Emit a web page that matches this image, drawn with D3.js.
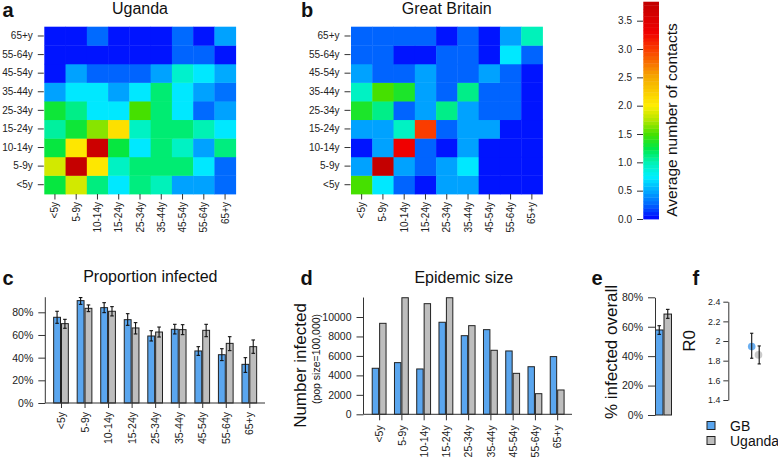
<!DOCTYPE html>
<html><head><meta charset="utf-8">
<script src="https://cdn.jsdelivr.net/npm/d3@7"></script>
<style>
body{margin:0;background:#fff;}
svg{display:block;font-family:"Liberation Sans",Arial,Helvetica,sans-serif;}
</style></head><body>
<svg id="chart" width="778" height="461"></svg>
<script>
// ---------- DATA ----------
const ageGroups = ["<5y","5-9y","10-14y","15-24y","25-34y","35-44y","45-54y","55-64y","65+y"];
// contact matrices: rows = participant age (<5y first), columns = contact age
const ugandaContacts = [
  [1.27,1.85,1.12,0.72,1.12,0.98,0.47,0.47,0.27],
  [1.85,3.78,2.05,0.95,1.15,1.15,1.15,0.72,0.27],
  [1.27,2.05,3.70,1.27,0.72,1.15,0.95,0.47,1.12],
  [1.05,1.30,1.65,2.10,0.95,1.15,1.15,1.00,0.72],
  [1.30,1.10,0.72,0.72,1.50,1.15,0.72,0.27,0.47],
  [0.47,0.72,0.72,0.47,0.72,1.15,0.72,0.47,0.30],
  [0.05,0.47,0.25,0.25,0.25,0.47,0.92,0.72,0.50],
  [0.05,0.05,0.05,0.05,0.05,0.05,0.25,0.25,0.05],
  [0.05,0.05,0.27,0.05,0.05,0.05,0.27,0.05,0.47]
];
const gbContacts = [
  [1.50,0.72,0.25,0.05,0.47,0.47,0.05,0.05,0.05],
  [0.47,3.80,0.47,0.25,0.47,0.72,0.05,0.05,0.05],
  [0.05,0.47,3.30,0.25,0.05,0.47,0.05,0.05,0.05],
  [0.47,0.47,0.95,3.00,0.25,0.47,0.47,0.05,0.05],
  [1.35,1.10,0.25,0.47,1.10,0.47,0.25,0.25,0.05],
  [0.95,1.50,1.35,0.47,0.25,1.10,0.25,0.25,0.05],
  [0.47,0.25,0.25,0.47,0.25,0.25,0.47,0.25,0.05],
  [0.25,0.25,0.05,0.05,0.25,0.25,0.05,0.72,0.25],
  [0.25,0.25,0.25,0.25,0.05,0.25,0.05,0.47,0.98]
];
const colorbarTicks = [0,0.5,1,1.5,2,2.5,3,3.5];
const colorbarMax = 3.835;

const countries = ["GB","Uganda"];
// c: proportion infected by age
const propGB   = [0.756,0.903,0.841,0.735,0.591,0.650,0.459,0.426,0.341];
const propGBlo = [0.703,0.870,0.797,0.685,0.547,0.609,0.420,0.374,0.270];
const propGBhi = [0.809,0.930,0.885,0.788,0.638,0.694,0.497,0.479,0.400];
const propUG   = [0.700,0.835,0.809,0.662,0.626,0.647,0.641,0.526,0.497];
const propUGlo = [0.659,0.806,0.768,0.609,0.582,0.603,0.585,0.462,0.438];
const propUGhi = [0.738,0.865,0.850,0.709,0.670,0.691,0.694,0.585,0.556];
const propTicks = [0,0.2,0.4,0.6,0.8];
// d: epidemic size
const sizeGB = [4730,5310,4660,9460,8080,8700,6510,4890,5930];
const sizeUG = [9350,11980,11370,11980,9110,6580,4210,2120,2500];
const sizeTicks = [0,2000,4000,6000,8000,10000];
// e: % infected overall
const overall   = [0.578,0.686];
const overallLo = [0.548,0.657];
const overallHi = [0.607,0.718];
// f: R0
const r0   = [1.943,1.859];
const r0Lo = [1.825,1.767];
const r0Hi = [2.079,1.950];
const r0Ticks = [1.4,1.6,1.8,2,2.2,2.4];

// ---------- STYLE ----------
const BLUE = "#5aa6ef", GREY = "#bebebe", INK = "#222";
const colorStops = [0,0.25,0.5,0.75,1.0,1.25,1.5,1.75,2.0,2.5,3.0,3.3,3.84];
const colorVals = ["#0000ff","#0064ff","#00aaff","#00f0ff","#00f2b4","#00e846","#46e000","#b4e600","#ffee00","#f5aa00","#fa3c00","#f00000","#c00000"];
const color = d3.scaleLinear().domain(colorStops).range(colorVals).clamp(true);

const svg = d3.select("#chart");

function letter(t,x,y){
  svg.append("text").attr("x",x).attr("y",y).attr("font-size",20).attr("font-weight","bold").attr("fill","#111").text(t);
}
function title(t,x,y){
  svg.append("text").attr("x",x).attr("y",y).attr("text-anchor","middle").attr("font-size",16).attr("fill","#111").text(t);
}
function styleAxis(g,fs){
  g.selectAll("line").attr("stroke","#333");
  g.selectAll("path.domain").attr("stroke","#333");
  g.selectAll("text").attr("fill",INK).attr("font-size",fs).attr("font-family",null);
}
function rotateLabels(g,off){
  g.selectAll(".tick text").attr("transform","rotate(-90)")
    .attr("x",-off).attr("y",0).attr("dy","0.35em").attr("text-anchor","end");
}

// ---------- HEATMAPS ----------
function heatmap(matrix,x0,x1,ttl,lt,ltx){
  const y0 = 26.7, y1 = 194;
  const hx = d3.scaleBand().domain(ageGroups).range([x0,x1]);
  const hy = d3.scaleBand().domain(ageGroups).range([y1,y0]);
  const g = svg.append("g");
  matrix.forEach((row,i)=>row.forEach((v,j)=>{
    g.append("rect").attr("x",hx(ageGroups[j])).attr("y",hy(ageGroups[i]))
      .attr("width",hx.bandwidth()+0.4).attr("height",hy.bandwidth()+0.4)
      .attr("fill",color(v));
  }));
  const ay = svg.append("g").attr("transform",`translate(${x0-0.5},0)`)
    .call(d3.axisLeft(hy).tickSize(6).tickPadding(5));
  ay.select(".domain").remove();
  styleAxis(ay,10);
  const ax = svg.append("g").attr("transform",`translate(0,${y1})`)
    .call(d3.axisBottom(hx).tickSize(5.5));
  ax.select(".domain").remove();
  styleAxis(ax,10);
  rotateLabels(ax,8);
  title(ttl,(x0+x1)/2,13.5);
  letter(lt,ltx,16.5);
}
heatmap(ugandaContacts,44.3,235.7,"Uganda","a",2.5);
heatmap(gbContacts,351,542.5,"Great Britain","b",301);

// ---------- COLORBAR ----------
(function(){
  const cy = d3.scaleLinear().domain([0,3.5]).range([219,20.7]);
  const n = 60, step = colorbarMax/n;
  const g = svg.append("g");
  d3.range(n).forEach(i=>{
    const v0 = i*step, v1 = (i+1)*step;
    g.append("rect").attr("x",643.3).attr("width",15.7)
      .attr("y",cy(v1)).attr("height",cy(v0)-cy(v1)+0.4)
      .attr("fill",color((v0+v1)/2));
  });
  const ax = svg.append("g").attr("transform","translate(643,0)")
    .call(d3.axisLeft(cy).tickValues(colorbarTicks).tickFormat(d3.format(".1f")).tickSize(6).tickPadding(5));
  ax.select(".domain").remove();
  styleAxis(ax,10);
  svg.append("text").attr("transform","translate(671.5,120) rotate(-90)")
    .attr("text-anchor","middle").attr("dominant-baseline","central")
    .attr("font-size",15.5).attr("fill","#111").text("Average number of contacts");
})();

// ---------- BAR HELPERS ----------
function groupedBars(x,y,gbVals,ugVals){
  const sub = d3.scaleBand().domain(countries).range([0,x.bandwidth()]);
  ageGroups.forEach((a,i)=>{
    [gbVals[i],ugVals[i]].forEach((v,k)=>{
      svg.append("rect").attr("x",x(a)+sub(countries[k])+0.5).attr("y",y(v))
        .attr("width",sub.bandwidth()-1).attr("height",y(0)-y(v))
        .attr("fill",k===0?BLUE:GREY).attr("stroke",INK).attr("stroke-width",1);
    });
  });
  return sub;
}
function errBar(cx,yLo,yHi,cap){
  const g = svg.append("g").attr("stroke","#111").attr("stroke-width",1.1);
  g.append("line").attr("x1",cx).attr("x2",cx).attr("y1",yLo).attr("y2",yHi);
  g.append("line").attr("x1",cx-cap).attr("x2",cx+cap).attr("y1",yLo).attr("y2",yLo);
  g.append("line").attr("x1",cx-cap).attr("x2",cx+cap).attr("y1",yHi).attr("y2",yHi);
}

// ---------- PANEL C ----------
(function(){
  const x = d3.scaleBand().domain(ageGroups).range([45.3,265]).paddingInner(1/3).paddingOuter(1/3);
  const y = d3.scaleLinear().domain([0,0.8]).range([403,312.3]);
  const sub = groupedBars(x,y,propGB,propUG);
  ageGroups.forEach((a,i)=>{
    const cb = x(a)+sub("GB")+sub.bandwidth()/2, cu = x(a)+sub("Uganda")+sub.bandwidth()/2;
    errBar(cb,y(propGBlo[i]),y(propGBhi[i]),1.8);
    errBar(cu,y(propUGlo[i]),y(propUGhi[i]),1.8);
  });
  svg.append("line").attr("x1",45.3).attr("x2",265).attr("y1",y(0)).attr("y2",y(0)).attr("stroke","#333");
  const ay = svg.append("g").attr("transform","translate(45.3,0)")
    .call(d3.axisLeft(y).tickValues(propTicks).tickFormat(d3.format(".0%")).tickSize(7).tickSizeOuter(0).tickPadding(5));
  ay.select(".domain").attr("d",`M0,${y(0)}V${y(0.933)}`);
  styleAxis(ay,10.5);
  const ax = svg.append("g").attr("transform",`translate(0,${y(0)})`)
    .call(d3.axisBottom(d3.scalePoint().domain(ageGroups).range([x(ageGroups[0])+x.bandwidth()/2, x(ageGroups[8])+x.bandwidth()/2])).tickSize(5));
  ax.select(".domain").remove();
  styleAxis(ax,10.5);
  rotateLabels(ax,9);
  title("Proportion infected",150.3,282.2);
  letter("c",2.5,285);
})();

// ---------- PANEL D ----------
(function(){
  const x = d3.scaleBand().domain(ageGroups).range([364.3,572]).paddingInner(1/3).paddingOuter(1/3);
  const y = d3.scaleLinear().domain([0,10000]).range([414.3,317]);
  groupedBars(x,y,sizeGB,sizeUG);
  svg.append("line").attr("x1",363.5).attr("x2",572).attr("y1",y(0)).attr("y2",y(0)).attr("stroke","#333");
  const ay = svg.append("g").attr("transform","translate(363.5,0)")
    .call(d3.axisLeft(y).tickValues(sizeTicks).tickFormat(d3.format("d")).tickSize(7).tickSizeOuter(0).tickPadding(5));
  ay.select(".domain").attr("d",`M0,${y(0)}V${y(12000)}`);
  styleAxis(ay,10.5);
  const ax = svg.append("g").attr("transform",`translate(0,${y(0)})`)
    .call(d3.axisBottom(d3.scalePoint().domain(ageGroups).range([x(ageGroups[0])+x.bandwidth()/2, x(ageGroups[8])+x.bandwidth()/2])).tickSize(6));
  ax.select(".domain").remove();
  styleAxis(ax,10.5);
  rotateLabels(ax,11);
  svg.append("text").attr("transform","translate(300.5,365.5) rotate(-90)")
    .attr("text-anchor","middle").attr("dominant-baseline","central")
    .attr("font-size",17).attr("fill","#111").text("Number infected");
  svg.append("text").attr("transform","translate(316,359) rotate(-90)")
    .attr("text-anchor","middle").attr("dominant-baseline","central")
    .attr("font-size",10.5).attr("fill","#111").text("(pop size=100,000)");
  title("Epidemic size",463.8,283);
  letter("d",300.5,285);
})();

// ---------- PANEL E ----------
(function(){
  const x = d3.scaleBand().domain(countries).range([655,672]);
  const y = d3.scaleLinear().domain([0,0.8]).range([415,297.3]);
  countries.forEach((c,k)=>{
    svg.append("rect").attr("x",x(c)+0.5).attr("y",y(overall[k]))
      .attr("width",x.bandwidth()-1).attr("height",y(0)-y(overall[k]))
      .attr("fill",k===0?BLUE:GREY).attr("stroke",INK);
    errBar(x(c)+x.bandwidth()/2,y(overallLo[k]),y(overallHi[k]),1.8);
  });
  const ay = svg.append("g").attr("transform","translate(655,0)")
    .call(d3.axisLeft(y).tickValues(propTicks).tickFormat(d3.format(".0%")).tickSize(7).tickSizeOuter(0).tickPadding(5));
  styleAxis(ay,10.5);
  svg.append("text").attr("transform","translate(611.5,352) rotate(-90)")
    .attr("text-anchor","middle").attr("dominant-baseline","central")
    .attr("font-size",17).attr("fill","#111").text("% infected overall");
  letter("e",591.5,285);
})();

// ---------- PANEL F ----------
(function(){
  const x = d3.scalePoint().domain(countries).range([751.7,758.5]);
  const y = d3.scaleLinear().domain([1.4,2.4]).range([400,301.7]);
  countries.forEach((c,k)=>{
    svg.append("circle").attr("cx",x(c)).attr("cy",y(r0[k])).attr("r",3.8)
      .attr("fill",k===0?"#5aa6ef":"#c4c4c4").attr("opacity",0.9);
    errBar(x(c)+(k===1?0.7:0),y(r0Lo[k]),y(r0Hi[k]),1.6);
  });
  const ay = svg.append("g").attr("transform","translate(728.3,0)")
    .call(d3.axisLeft(y).tickValues(r0Ticks).tickFormat(d3.format("")).tickSize(5).tickSizeOuter(0).tickPadding(3));
  styleAxis(ay,8.8);
  svg.append("text").attr("transform","translate(689.5,341) rotate(-90)")
    .attr("text-anchor","middle").attr("dominant-baseline","central")
    .attr("font-size",17).attr("fill","#111").text("R0");
  letter("f",692.5,285);
  // legend
  countries.forEach((c,k)=>{
    const cy = 425.5 + k*15;
    svg.append("rect").attr("x",707).attr("y",cy-4).attr("width",8).attr("height",8)
      .attr("fill",k===0?BLUE:GREY).attr("stroke",INK);
    svg.append("text").attr("x",730).attr("y",cy).attr("dominant-baseline","central")
      .attr("font-size",14).attr("fill","#111").text(c);
  });
})();
</script>
</body></html>
